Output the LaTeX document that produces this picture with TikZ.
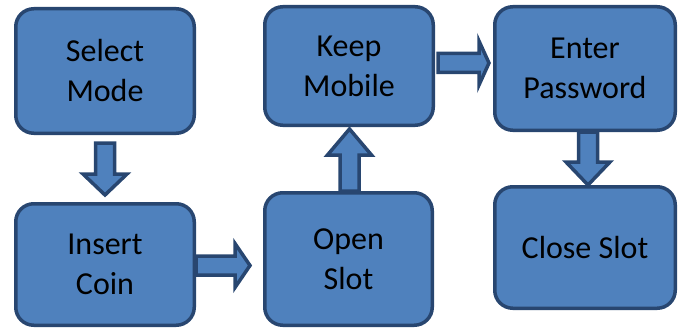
\documentclass[tikz,border=0pt]{standalone}
\usepackage{fontspec}
\setmainfont{Carlito}
\usetikzlibrary{calc}
\definecolor{flowBlue}{HTML}{4F81BD}
\definecolor{flowEdge}{HTML}{284670}
\tikzset{
  boxStep/.style={rectangle, rounded corners=18pt, draw=flowEdge, fill=flowBlue,
                  line width=3.5pt, align=center, inner sep=2pt,
                  font=\fontsize{32}{40}\selectfont},
  head len/.store in=\headLen, head len=22pt,
  arrowBlock/.style={draw=flowEdge, fill=flowBlue, line width=3.5pt, line join=miter,
    to path={
      ($(\tikztotarget)!\headLen!(\tikztostart)$) coordinate (ah)
      ($(\tikztostart)!9.5pt!90:(\tikztotarget)$)
      -- ($(ah)!9.5pt!-90:(\tikztostart)$) -- ($(ah)!22pt!-90:(\tikztostart)$)
      -- (\tikztotarget)
      -- ($(ah)!22pt!90:(\tikztostart)$) -- ($(ah)!9.5pt!90:(\tikztostart)$)
      -- ($(\tikztostart)!9.5pt!-90:(\tikztotarget)$) -- cycle}},
}

\begin{document}
\begin{tikzpicture}[x=1pt, y=-1pt]
    \useasboundingbox (0,0) rectangle (686,329);
    \node[boxStep, minimum width=178.5pt, minimum height=124.5pt] (sel) at (105,71) {Select\\Mode};
    \node[boxStep, minimum width=178.5pt, minimum height=121.5pt] (ins) at (105,264.5) {Insert\\Coin};
    \node[boxStep, minimum width=167.5pt, minimum height=132.5pt] (open) at (348.5,259) {Open\\Slot};
    \node[boxStep, minimum width=168.5pt, minimum height=118.5pt] (keep) at (349,66) {Keep\\Mobile};
    \node[boxStep, minimum width=180.5pt, minimum height=123.5pt] (pass) at (585,68.5) {Enter\\Password};
    \node[boxStep, minimum width=180.5pt, minimum height=121.5pt] (close) at (585,247.5) {Close Slot};

    \draw[arrowBlock, head len=21pt] ([yshift=-8pt]sel.south) to ([yshift=7pt]ins.north);
    \draw[arrowBlock, head len=15pt] ([yshift=-1pt]ins.east) to ([xshift=-13pt,yshift=-6.5pt]open.west);
    \draw[arrowBlock, head len=26pt] ([xshift=1pt]open.north) to ([xshift=0.5pt,yshift=-2pt]keep.south);
    \draw[arrowBlock, head len=10pt] ([xshift=3pt,yshift=3pt]keep.east) to ([xshift=-4pt,yshift=5.5pt]pass.west);
    \draw[arrowBlock, head len=23pt] ([xshift=3pt]pass.south) to ([xshift=3pt]close.north);
  \end{tikzpicture}
\end{document}
